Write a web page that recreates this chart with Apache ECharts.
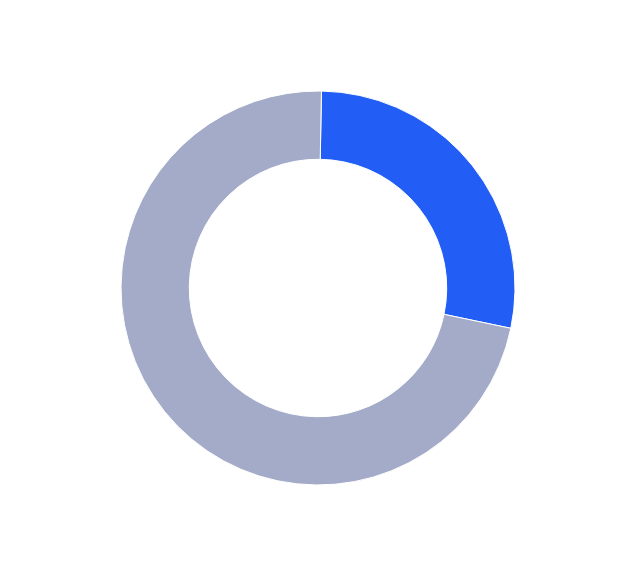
<!DOCTYPE html>
<html><head><meta charset="utf-8">
<script src="https://cdn.jsdelivr.net/npm/echarts@6/dist/echarts.min.js"></script>
<style>html,body{margin:0;padding:0;background:#fff}#c{width:636px;height:576px}</style>
</head><body><div id="c"></div>
<script>
const categories = ['A', 'B'];
const values = [28, 72];
const colors = ['#225df5', '#a4abc8'];
const chart = echarts.init(document.getElementById('c'), null, {renderer: 'canvas'});
chart.setOption({
  animation: false,
  series: [{
    type: 'pie',
    center: ['50%', '50%'],
    radius: ['44.7%', '68.4%'],
    startAngle: 89,
    label: {show: false},
    labelLine: {show: false},
    itemStyle: {borderColor: '#fff', borderWidth: 1},
    data: categories.map((n, i) => ({name: n, value: values[i], itemStyle: {color: colors[i]}}))
  }]
});
</script></body></html>
